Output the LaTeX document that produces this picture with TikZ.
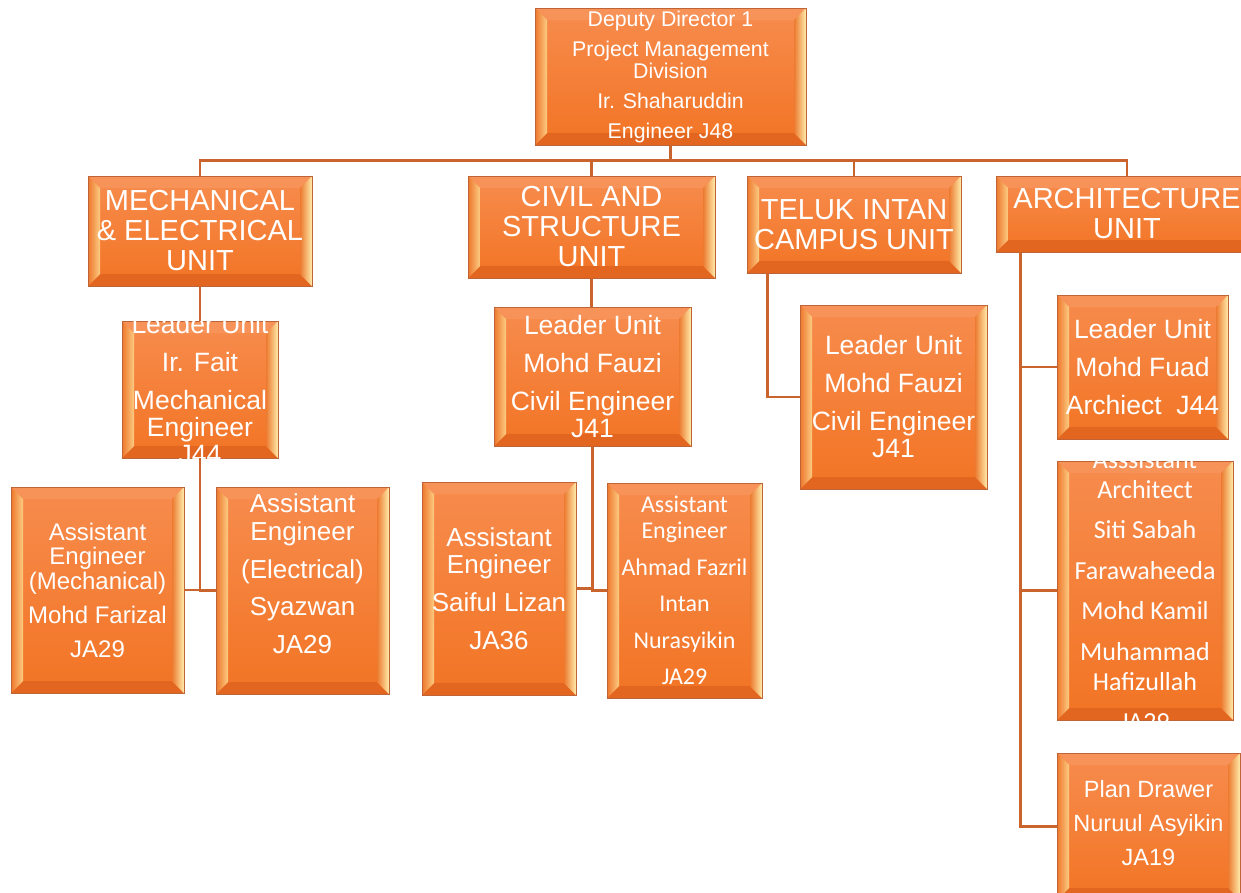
\documentclass[tikz,border=0pt]{standalone}
\usepackage{fontspec}
\setmainfont{Liberation Sans}
\newfontfamily\carlfont{Carlito}
\usetikzlibrary{calc}
\definecolor{faceT}{RGB}{247,140,78}
\definecolor{faceB}{RGB}{242,116,36}
\definecolor{bevTop}{RGB}{247,146,88}
\definecolor{bevBot}{RGB}{226,102,32}
\definecolor{bevLo}{RGB}{238,118,44}
\definecolor{bevLi}{RGB}{251,205,130}
\definecolor{bevRi}{RGB}{236,122,48}
\definecolor{bevRo}{RGB}{255,236,170}
\definecolor{edgec}{RGB}{190,100,55}
\definecolor{linkc}{RGB}{201,101,44}
\tikzset{
  orgbox/.style={draw=edgec, line width=0.8pt, top color=faceT, bottom color=faceB,
    inner sep=0pt,
    path picture={
      \path (path picture bounding box.south west) coordinate (bSW)
            (path picture bounding box.north east) coordinate (bNE);
      \path (bSW |- bNE) coordinate (bNW) (bNE |- bSW) coordinate (bSE);
      \path ([shift={(12pt,-12pt)}]bNW) coordinate (iNW)
            ([shift={(-12pt,-12pt)}]bNE) coordinate (iNE)
            ([shift={(-12pt,12pt)}]bSE) coordinate (iSE)
            ([shift={(12pt,12pt)}]bSW) coordinate (iSW);
      \fill[bevTop] (bNW) -- (bNE) -- (iNE) -- (iNW) -- cycle;
      \fill[bevBot] (bSW) -- (bSE) -- (iSE) -- (iSW) -- cycle;
      \shade[left color=bevLo, right color=bevLi] (bSW) -- (bNW) -- (iNW) -- (iSW) -- cycle;
      \shade[left color=bevRi, right color=bevRo] (bSE) -- (bNE) -- (iNE) -- (iSE) -- cycle;
    }},
  lbl/.style={text=white, align=center, inner sep=0pt},
  link/.style={draw=linkc, line width=2.6pt},
}
\begin{document}
\begin{tikzpicture}[x=1pt,y=-1pt]
\useasboundingbox (0,0) rectangle (1241,892);
% boxes
\node[orgbox, minimum width=271pt, minimum height=137pt] (dd) at (670.5,76.5) {};
\node[orgbox, minimum width=224pt, minimum height=110pt] (me) at (200,231) {};
\node[orgbox, minimum width=247pt, minimum height=102pt] (cs) at (591.5,227) {};
\node[orgbox, minimum width=214pt, minimum height=97pt] (ti) at (854,224.5) {};
\node[orgbox, minimum width=262pt, minimum height=76pt] (ar) at (1127,214) {};
\node[orgbox, minimum width=156pt, minimum height=137pt] (fa) at (200,389.5) {};
\node[orgbox, minimum width=197pt, minimum height=139pt] (csl) at (592.5,376.5) {};
\node[orgbox, minimum width=187pt, minimum height=184pt] (til) at (893.5,397) {};
\node[orgbox, minimum width=171pt, minimum height=144pt] (arl) at (1142.5,367) {};
\node[orgbox, minimum width=173pt, minimum height=206pt] (am) at (97.5,590) {};
\node[orgbox, minimum width=173pt, minimum height=207pt] (ae) at (302.5,590.5) {};
\node[orgbox, minimum width=154pt, minimum height=213pt] (sl) at (499,588.5) {};
\node[orgbox, minimum width=155pt, minimum height=215pt] (ah) at (684.5,590.5) {};
\node[orgbox, minimum width=176pt, minimum height=259pt] (aa) at (1145,590.5) {};
\node[orgbox, minimum width=183pt, minimum height=147pt] (pd) at (1148.5,826.5) {};
% texts
\node[lbl, font=\fontsize{21.3}{22}\selectfont] (ddt) at (dd.center)
  {Deputy Director 1\\[8pt]Project Management\\Division\\[8pt]Ir. Shaharuddin\\[8pt]Engineer J48};
\node[lbl, font=\fontsize{29}{30}\selectfont] (met) at (me.center)
  {MECHANICAL\\\& ELECTRICAL\\UNIT};
\node[lbl, font=\fontsize{29}{30}\selectfont] (cst) at (cs.center)
  {CIVIL AND\\STRUCTURE\\UNIT};
\node[lbl, font=\fontsize{29}{30}\selectfont] (tit) at (ti.center)
  {TELUK INTAN\\CAMPUS UNIT};
\node[lbl, font=\fontsize{29}{30}\selectfont] (art) at (ar.center)
  {ARCHITECTURE\\UNIT};
\node[lbl, font=\fontsize{26.5}{27}\selectfont] (fat) at (fa.center)
  {Leader Unit\\[11pt]Ir. Fait\\[11pt]Mechanical\\Engineer\\J44};
\node[lbl, font=\fontsize{26.5}{27}\selectfont] (cslt) at (csl.center)
  {Leader Unit\\[11pt]Mohd Fauzi\\[11pt]Civil Engineer\\J41};
\node[lbl, font=\fontsize{26.5}{27}\selectfont] (tilt) at (til.center)
  {Leader Unit\\[11pt]Mohd Fauzi\\[11pt]Civil Engineer\\J41};
\node[lbl, font=\fontsize{26.5}{27}\selectfont] (arlt) at (arl.center)
  {Leader Unit\\[11pt]Mohd Fuad\\[11pt]Archiect\ \ J44};
\node[lbl, font=\fontsize{24}{24.5}\selectfont] (amt) at (am.center)
  {Assistant\\Engineer\\(Mechanical)\\[10pt]Mohd Farizal\\[9pt]JA29};
\node[lbl, font=\fontsize{26}{28}\selectfont] (aet) at ([yshift=17pt]ae.center)
  {Assistant\\Engineer\\[9.5pt](Electrical)\\[9.5pt]Syazwan\\[9.5pt]JA29};
\node[lbl, font=\fontsize{26}{27}\selectfont] (slt) at (sl.center)
  {Assistant\\Engineer\\[11pt]Saiful Lizan\\[11pt]JA36};
\node[lbl, font=\carlfont\fontsize{24}{26}\selectfont] (aht) at (ah.center)
  {Assistant\\Engineer\\[10.5pt]Ahmad Fazril\\[10.5pt]Intan\\[10.5pt]Nurasyikin\\[10.5pt]JA29};
\node[lbl, font=\carlfont\fontsize{26}{30}\selectfont] (aat) at (aa.center)
  {Asssistant\\Architect\\[10.5pt]Siti Sabah\\[10.5pt]Farawaheeda\\[10.5pt]Mohd Kamil\\[10.5pt]Muhammad\\Hafizullah\\[10.5pt]JA29};
\node[lbl, font=\fontsize{23.5}{26}\selectfont] (pdt) at ([yshift=3pt]pd.center)
  {Plan Drawer\\[8pt]Nuruul Asyikin\\[8pt]JA19};
% connectors
\coordinate (bus) at ($(dd.south)+(0,15)$);
\draw[link] (dd.south) -- (bus);
\draw[link] (bus) -| (me.north);
\draw[link] (bus) -| (cs.north);
\draw[link] (bus) -| (ti.north);
\draw[link] (bus) -| (ar.north);
\draw[link] (me.south) -- (fa.north);
\draw[link] (cs.south) -- (cs.south |- csl.north);
\draw[link] (fa.south) |- (am.east);
\draw[link] (fa.south) |- (ae.west);
\draw[link] (csl.south) |- (sl.east);
\draw[link] (csl.south) |- (ah.west);
\draw[link] ([xshift=21pt]ti.south west) |- (til.west);
\draw[link] ([xshift=25pt]ar.south west) |- (arl.west);
\draw[link] ([xshift=25pt]ar.south west) |- (aa.west);
\draw[link] ([xshift=25pt]ar.south west) |- (pd.west);
\end{tikzpicture}
\end{document}
